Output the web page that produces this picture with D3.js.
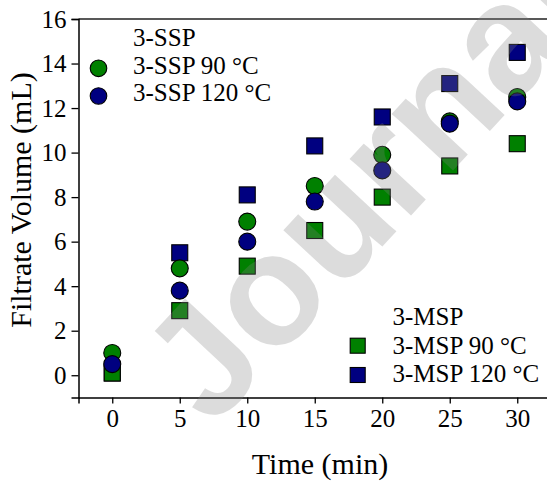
<!DOCTYPE html>
<html>
<head>
<meta charset="utf-8">
<script src="https://cdn.jsdelivr.net/npm/d3@7"></script>
<style>
  html, body { margin: 0; padding: 0; background: #fff; }
  svg { display: block; }
</style>
</head>
<body>
<svg id="chart" width="547" height="481"></svg>
<script>
// Filtrate volume (mL) against time (min)
const times = [0, 5, 10, 15, 20, 25, 30];
const ssp90  = [1.0, 4.8, 6.9, 8.5, 9.9, 11.4, 12.5];
const ssp120 = [0.5, 3.8, 6.0, 7.8, 9.2, 11.3, 12.3];
const msp90  = [0.1, 2.9, 4.9, 6.5, 8.0, 9.4, 10.4];
const msp120 = [0.1, 5.5, 8.1, 10.3, 11.6, 13.1, 14.5];

const xTicks = [0, 5, 10, 15, 20, 25, 30];
const yTicks = [0, 2, 4, 6, 8, 10, 12, 14, 16];

const GREEN = "#008000";
const NAVY = "#000080";
const SERIF = "'Liberation Serif', 'Times New Roman', serif";

// drawing order: squares first, then circles (navy above green)
const series = [
  { name: "3-MSP 120 °C", values: msp120, shape: "square", color: NAVY },
  { name: "3-MSP 90 °C",  values: msp90,  shape: "square", color: GREEN },
  { name: "3-SSP 90 °C",  values: ssp90,  shape: "circle", color: GREEN },
  { name: "3-SSP 120 °C", values: ssp120, shape: "circle", color: NAVY }
];

const svg = d3.select("#chart");

const x = d3.scaleLinear().domain([-2.5, 32.5]).range([78.5, 551]);
const y = d3.scaleLinear().domain([-1, 16]).range([397.5, 19]);

// frame (top and right sides without ticks)
svg.append("path")
  .attr("d", `M${x(-2.5)},${y(16)}H${x(32.5)}V${y(-1)}`)
  .attr("fill", "none").attr("stroke", "#222").attr("stroke-width", 1.5);

// bottom axis
const xAxis = svg.append("g").attr("transform", `translate(0,${y(-1)})`);
xAxis.call(d3.axisBottom(x).tickValues(d3.range(-2.5, 33, 2.5)).tickSize(4).tickFormat(""));
xAxis.call(d3.axisBottom(x).tickValues(xTicks).tickSize(6).tickPadding(6).tickFormat(d3.format("d")));
xAxis.selectAll(".domain").attr("stroke", "#000").attr("stroke-width", 1.5);
xAxis.selectAll(".tick line").attr("stroke", "#000").attr("stroke-width", 1.3);
xAxis.selectAll("text").attr("font-family", SERIF).attr("font-size", 25).attr("fill", "#000");

// left axis
const yAxis = svg.append("g").attr("transform", `translate(${x(-2.5)},0)`);
yAxis.call(d3.axisLeft(y).tickValues(d3.range(-1, 16.5, 1)).tickSize(4).tickFormat(""));
yAxis.call(d3.axisLeft(y).tickValues(yTicks).tickSize(7).tickPadding(5).tickFormat(d3.format("d")));
yAxis.selectAll(".domain").attr("stroke", "#000").attr("stroke-width", 1.5);
yAxis.selectAll(".tick line").attr("stroke", "#000").attr("stroke-width", 1.3);
yAxis.selectAll("text").attr("font-family", SERIF).attr("font-size", 25).attr("fill", "#000");

// axis titles
svg.append("text")
  .attr("x", 320).attr("y", 474)
  .attr("text-anchor", "middle").attr("font-family", SERIF).attr("font-size", 30)
  .text("Time (min)");
svg.append("text")
  .attr("transform", "translate(31,200) rotate(-90)")
  .attr("text-anchor", "middle").attr("font-family", SERIF).attr("font-size", 30)
  .text("Filtrate Volume (mL)");

// markers
const CIRCLE_R = 8.5, SQ = 16;
function drawMarker(g, shape, cx, cy, color, r, side) {
  if (shape === "circle") {
    g.append("circle").attr("cx", cx).attr("cy", cy).attr("r", r)
      .attr("fill", color).attr("stroke", "#000").attr("stroke-width", 1.1);
  } else {
    g.append("rect").attr("x", cx - side / 2).attr("y", cy - side / 2)
      .attr("width", side).attr("height", side)
      .attr("fill", color).attr("stroke", "#000").attr("stroke-width", 1.1);
  }
}

const plot = svg.append("g");
series.forEach(s => {
  s.values.forEach((v, i) => {
    drawMarker(plot, s.shape, x(times[i]), y(v), s.color, CIRCLE_R, SQ);
  });
});

// legends
const legend = svg.append("g").attr("font-family", SERIF).attr("font-size", 25);
legend.append("text").attr("x", 133).attr("y", 46).text("3-SSP");
drawMarker(legend, "circle", 98.5, 68.3, GREEN, 8.3, 15);
legend.append("text").attr("x", 133).attr("y", 73.5).text("3-SSP 90 °C");
drawMarker(legend, "circle", 98.5, 96, NAVY, 8.3, 15);
legend.append("text").attr("x", 133).attr("y", 101).text("3-SSP 120 °C");

legend.append("text").attr("x", 392.5).attr("y", 325).text("3-MSP");
drawMarker(legend, "square", 357.7, 345.7, GREEN, 8.3, 15);
legend.append("text").attr("x", 392.5).attr("y", 353.5).text("3-MSP 90 °C");
drawMarker(legend, "square", 357.7, 375, NAVY, 8.3, 15);
legend.append("text").attr("x", 392.5).attr("y", 382).text("3-MSP 120 °C");

// diagonal watermark
svg.append("text")
  .attr("transform", "translate(212,429) rotate(-47)")
  .attr("font-family", "'Liberation Sans', Arial, sans-serif")
  .attr("font-weight", "bold")
  .attr("font-size", 158)
  .attr("fill", "#808080").attr("fill-opacity", 0.28)
  .text("Journal");
</script>
</body>
</html>
